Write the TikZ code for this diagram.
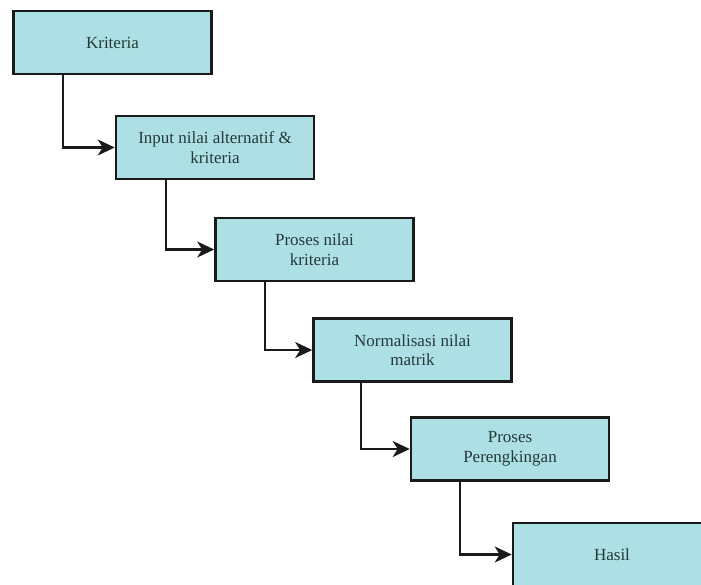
\documentclass[tikz,border=0pt]{standalone}
\usepackage{fontspec}
\setmainfont{Liberation Serif}
\usetikzlibrary{arrows.meta}
\definecolor{boxfill}{HTML}{ACE0E4}
\definecolor{boxtext}{HTML}{26393A}
\definecolor{boxline}{HTML}{1A1A1A}
\begin{document}
\begin{tikzpicture}[x=1pt,y=-1pt,
  stepbox/.style={draw=boxline, line width=2.6pt, fill=boxfill, minimum width=198pt, minimum height=63pt,
    inner sep=0pt, align=center, text=boxtext, font=\fontsize{17}{19.5}\selectfont},
  link/.style={draw=boxline, line width=2.2pt, -{Stealth[length=17pt,width=16pt,inset=5pt]}}]
\useasboundingbox (0,0) rectangle (701,584);
\node[stepbox] (b1) at (112.5,42.5) {Kriteria};
\node[stepbox] (b2) at (215,147.5) {Input nilai alternatif \&\\kriteria};
\node[stepbox] (b3) at (314.5,249.5) {Proses nilai\\kriteria};
\node[stepbox] (b4) at (412.5,350) {Normalisasi nilai\\matrik};
\node[stepbox] (b5) at (510,449) {Proses\\Perengkingan};
\node[stepbox] (b6) at (612,554.5) {Hasil};
\draw[link] ([xshift=51pt]b1.south west) |- (b2.west);
\draw[link] ([xshift=51pt]b2.south west) |- (b3.west);
\draw[link] ([xshift=51pt]b3.south west) |- (b4.west);
\draw[link] ([xshift=49pt]b4.south west) |- (b5.west);
\draw[link] ([xshift=50pt]b5.south west) |- (b6.west);
\end{tikzpicture}
\end{document}
